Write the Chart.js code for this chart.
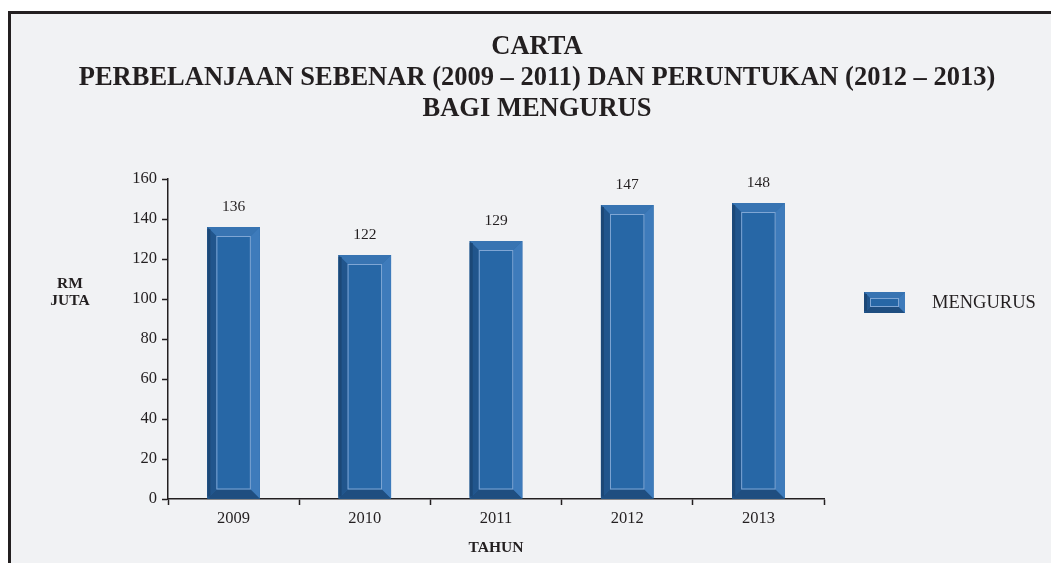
<!DOCTYPE html>
<html>
<head>
<meta charset="utf-8">
<script src="https://cdn.jsdelivr.net/npm/chart.js@4.4.0/dist/chart.umd.min.js"></script>
<style>
  html, body { margin: 0; padding: 0; background: #ffffff; }
  #frame { position: absolute; left: 8px; top: 11px; width: 1100px; height: 600px;
           border: 3px solid #231f20; background: #f1f2f4; }
  #wrap { position: absolute; left: 0; top: 0; width: 1051px; height: 563px; }
</style>
</head>
<body>
<div id="frame"></div>
<div id="wrap"><canvas id="chart" width="1051" height="563"></canvas></div>
<script>
const years = ['2009', '2010', '2011', '2012', '2013'];
const mengurus = [136, 122, 129, 147, 148];
const yTicks = [0, 20, 40, 60, 80, 100, 120, 140, 160];
const titleLines = ['CARTA', 'PERBELANJAAN SEBENAR (2009 – 2011) DAN PERUNTUKAN (2012 – 2013)', 'BAGI MENGURUS'];
const seriesName = 'MENGURUS';
const yAxisLabel = ['RM', 'JUTA'];
const xAxisLabel = 'TAHUN';

const ink = '#231f20';
const serif = "'Liberation Serif', 'Times New Roman', serif";

// draws the bevelled box look of the bars
function bevel(ctx, l, t, r, b, d) {
  ctx.save();
  ctx.fillStyle = '#2767a6';
  ctx.fillRect(l, t, r - l, b - t);
  // top
  ctx.fillStyle = '#3874b2';
  ctx.beginPath(); ctx.moveTo(l, t); ctx.lineTo(r, t); ctx.lineTo(r - d, t + d); ctx.lineTo(l + d, t + d); ctx.closePath(); ctx.fill();
  // bottom
  ctx.fillStyle = '#1f4e80';
  ctx.beginPath(); ctx.moveTo(l, b); ctx.lineTo(r, b); ctx.lineTo(r - d, b - d); ctx.lineTo(l + d, b - d); ctx.closePath(); ctx.fill();
  // left
  ctx.fillStyle = '#21558c';
  ctx.beginPath(); ctx.moveTo(l, t); ctx.lineTo(l + d, t + d); ctx.lineTo(l + d, b - d); ctx.lineTo(l, b); ctx.closePath(); ctx.fill();
  ctx.fillStyle = '#1c4877';
  ctx.fillRect(l, t + 2, 3, b - t - 4);
  // right
  ctx.fillStyle = '#3e7bbb';
  ctx.beginPath(); ctx.moveTo(r, t); ctx.lineTo(r - d, t + d); ctx.lineTo(r - d, b - d); ctx.lineTo(r, b); ctx.closePath(); ctx.fill();
  // inner light line
  ctx.strokeStyle = '#7fa6d4';
  ctx.lineWidth = 1;
  ctx.strokeRect(l + d + 0.5, t + d + 0.5, r - l - 2 * d - 1, b - t - 2 * d - 1);
  ctx.restore();
}

const decorPlugin = {
  id: 'decor',
  afterDatasetsDraw(chart) {
    const ctx = chart.ctx;
    const meta = chart.getDatasetMeta(0);
    meta.data.forEach((bar, i) => {
      const p = bar.getProps(['x', 'y', 'base', 'width'], true);
      bevel(ctx, p.x - p.width / 2, p.y, p.x + p.width / 2, p.base, 9);
      ctx.save();
      ctx.fillStyle = ink;
      ctx.font = '15.5px ' + serif;
      ctx.textAlign = 'center';
      ctx.textBaseline = 'middle';
      ctx.fillText(String(mengurus[i]), p.x, p.y - 20);
      ctx.restore();
    });
  },
  afterDraw(chart) {
    const ctx = chart.ctx;
    const area = chart.chartArea;
    ctx.save();
    ctx.fillStyle = ink;
    ctx.textAlign = 'center';
    ctx.textBaseline = 'middle';
    // title, centred on the page
    ctx.font = 'bold 26.5px ' + serif;
    titleLines.forEach((line, i) => ctx.fillText(line, 537, 47 + i * 31));
    // y axis label, horizontal
    ctx.font = 'bold 15.5px ' + serif;
    ctx.fillText(yAxisLabel[0], 70, 284);
    ctx.fillText(yAxisLabel[1], 70, 301);
    // legend
    const lx = area.right + 40, ly = 292;
    bevel(ctx, lx, ly, lx + 41, ly + 21, 6);
    ctx.font = '18.5px ' + serif;
    ctx.textAlign = 'left';
    ctx.fillText(seriesName, lx + 68, ly + 11);
    ctx.restore();
  }
};

new Chart(document.getElementById('chart'), {
  type: 'bar',
  data: {
    labels: years,
    datasets: [{
      label: seriesName,
      data: mengurus,
      backgroundColor: '#2767a6',
      borderWidth: 0,
      barPercentage: 0.4,
      categoryPercentage: 1
    }]
  },
  options: {
    responsive: false,
    animation: false,
    layout: { padding: { left: 0, right: 227, top: 179, bottom: 0 } },
    plugins: {
      legend: { display: false },
      tooltip: { enabled: false },
      title: { display: false }
    },
    scales: {
      x: {
        offset: true,
        border: { color: ink, width: 1.5 },
        grid: { offset: true, drawOnChartArea: false, color: ink, tickLength: 6, tickWidth: 1.5 },
        ticks: { color: ink, font: { family: serif, size: 16.5 }, padding: 4 },
        title: { display: true, text: xAxisLabel, color: ink, font: { family: serif, size: 15.5, weight: 'bold' }, padding: { top: 10, bottom: 6 } },
        afterFit(scale) { scale.height = 64; }
      },
      y: {
        min: 0,
        max: 160,
        border: { color: ink, width: 1.5 },
        grid: { drawOnChartArea: false, color: ink, tickLength: 6, tickWidth: 1.5 },
        afterBuildTicks(scale) { scale.ticks = yTicks.map(v => ({ value: v })); },
        ticks: { color: ink, font: { family: serif, size: 16.5 }, padding: 5 },
        afterFit(scale) { scale.width = 168; }
      }
    }
  },
  plugins: [decorPlugin]
});
</script>
</body>
</html>
